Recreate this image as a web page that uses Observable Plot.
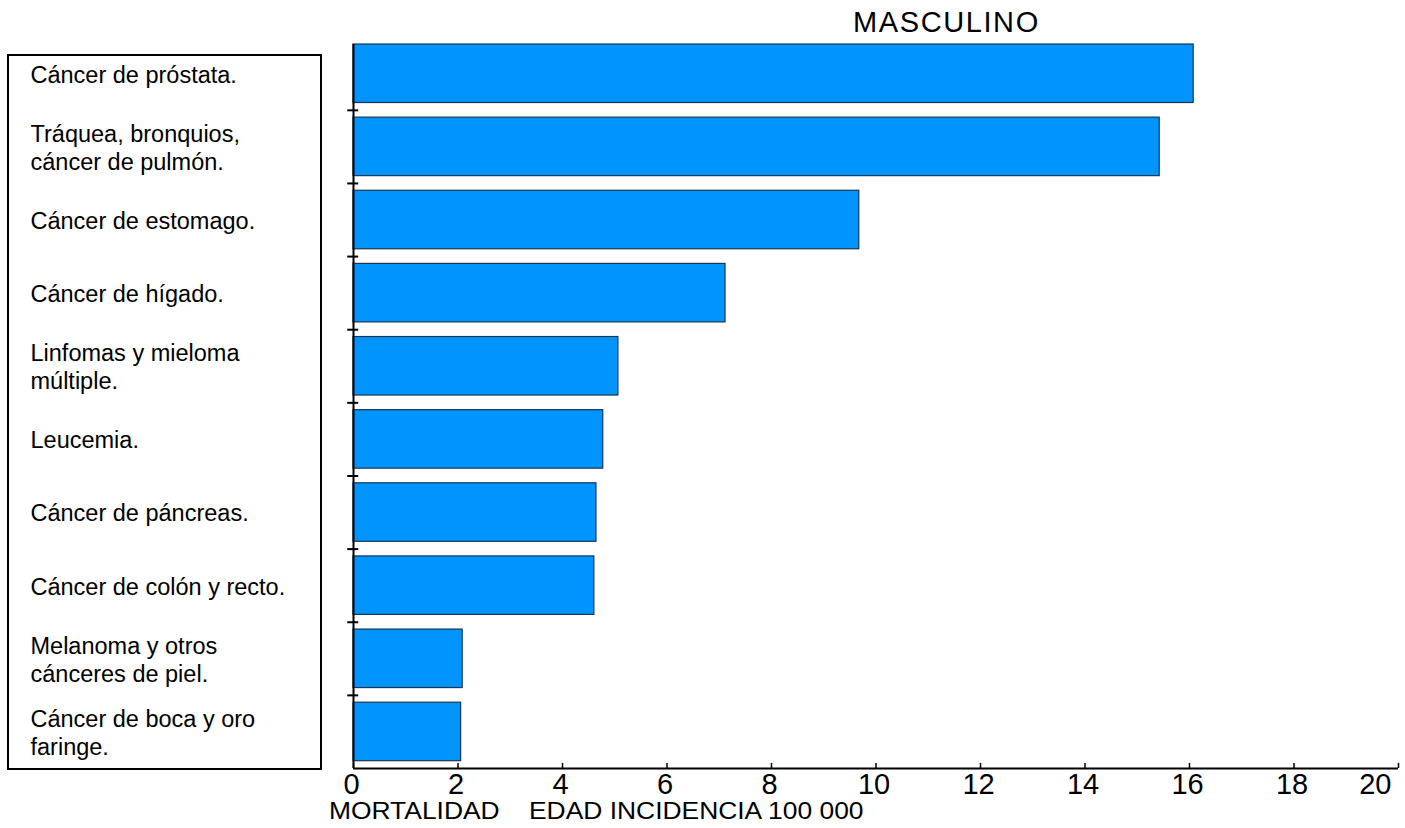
<!DOCTYPE html>
<html>
<head>
<meta charset="utf-8">
<script src="https://cdn.jsdelivr.net/npm/d3@7"></script>
<script src="https://cdn.jsdelivr.net/npm/@observablehq/plot@0.6"></script>
<style>
  body { margin: 0; background: white; font-family: "Liberation Sans", Arial, sans-serif; }
  #wrap { position: relative; width: 1405px; height: 828px; overflow: hidden; }
  #title { position: absolute; left: 853px; top: 6px; font-size: 29px; letter-spacing: 1.6px; color: #000; white-space: nowrap; }
  #xlabel { position: absolute; left: 329px; top: 797px; font-size: 24px; color: #000; white-space: pre; transform: scaleX(1.1); transform-origin: left top; }
  #box { position: absolute; left: 7px; top: 54px; width: 311px; height: 712px; border: 2px solid #000; pointer-events: none; }
</style>
</head>
<body>
<div id="wrap">
  <div id="chart"></div>
  <div id="box"></div>
  <div id="title">MASCULINO</div>
  <div id="xlabel">MORTALIDAD    EDAD INCIDENCIA 100 000</div>
</div>
<script>
const categories = [
  "Cáncer de próstata.",
  "Tráquea, bronquios,\ncáncer de pulmón.",
  "Cáncer de estomago.",
  "Cáncer de hígado.",
  "Linfomas y mieloma\nmúltiple.",
  "Leucemia.",
  "Cáncer de páncreas.",
  "Cáncer de colón y recto.",
  "Melanoma y otros\ncánceres de piel.",
  "Cáncer de boca y oro\nfaringe."
];
const values = [16.08, 15.43, 9.68, 7.12, 5.07, 4.78, 4.65, 4.61, 2.09, 2.06];
const xTicks = [0, 2, 4, 6, 8, 10, 12, 14, 16, 18, 20];

const data = categories.map((c, i) => ({label: c, value: values[i], i}));
const bounds = d3.range(1, categories.length);
const innerTicks = xTicks.slice(0, -1);
const lastTick = xTicks.slice(-1);

const plot = Plot.plot({
  width: 1405,
  height: 828,
  marginLeft: 353,
  marginRight: 7,
  marginTop: 44,
  marginBottom: 60,
  style: {background: "transparent", fontFamily: "Liberation Sans, Arial, sans-serif", color: "#000"},
  x: {domain: [0, 20], axis: null, label: null},
  y: {domain: [0.1, 10], reverse: true, axis: null},
  marks: [
    Plot.rectX(data, {x1: 0, x2: "value", y1: d => d.i + 0.1, y2: d => d.i + 0.9, fill: "#0094ff", stroke: "#1b3550", strokeWidth: 1.2}),
    Plot.ruleX([0], {y1: 0.1, y2: 10, stroke: "#000", strokeWidth: 2}),
    Plot.ruleY([10], {x1: 0, x2: 20, stroke: "#000", strokeWidth: 2}),
    Plot.ruleY(bounds, {y: d => d, x1: -0.11, x2: 0.1, stroke: "#000", strokeWidth: 2}),
    Plot.ruleX(xTicks, {x: d => d, y1: 10, y2: 9.93, stroke: "#000", strokeWidth: 1.5}),
    Plot.text(innerTicks, {x: d => d, y: 10, text: d => String(d), dy: 16, dx: -2, fontSize: 29, fill: "#000"}),
    Plot.text(lastTick, {x: d => d, y: 10, text: d => String(d), dy: 16, dx: -7, textAnchor: "end", fontSize: 29, fill: "#000"}),
    Plot.text(data, {x: 0, y: d => d.i + 0.5, text: "label", textAnchor: "start", dx: -323, fontSize: 23.5, lineHeight: 1.19, fill: "#000"})
  ]
});
document.getElementById("chart").appendChild(plot);
</script>
</body>
</html>
